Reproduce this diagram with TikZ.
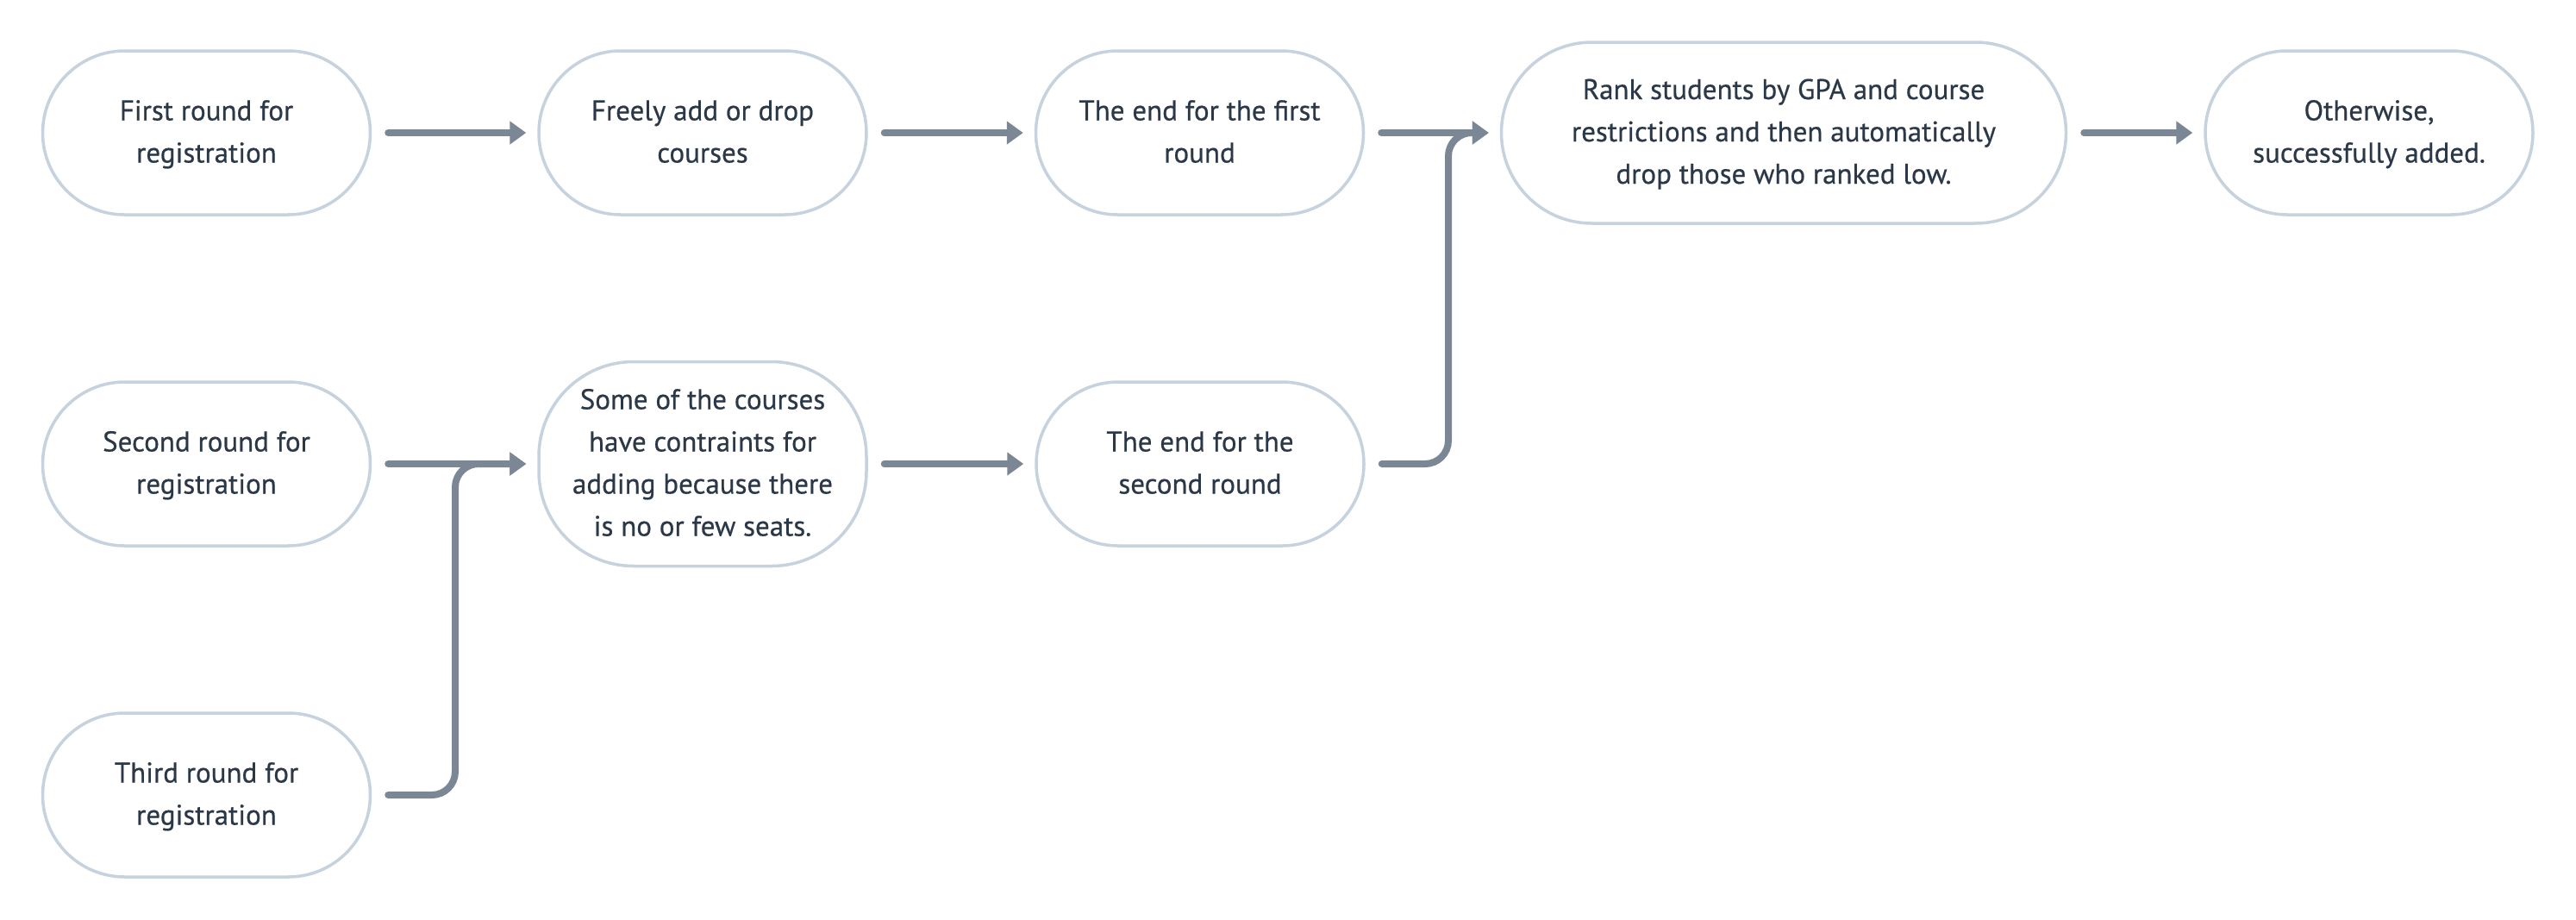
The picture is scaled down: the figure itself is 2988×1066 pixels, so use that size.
\documentclass[tikz,border=0pt]{standalone}
\usepackage{fontspec}
\setmainfont{PT Sans}
\newfontfamily\stagefont[FakeBold=0.5]{PT Sans}
\usetikzlibrary{arrows.meta}
\definecolor{edgec}{HTML}{7B8794}
\definecolor{boxc}{HTML}{C6D2DD}
\definecolor{txtc}{HTML}{2B3848}
\newcommand\lnstrut{\rule[-14.5pt]{0pt}{49pt}}
\begin{document}
\begin{tikzpicture}[x=1pt,y=-1pt,
  stage/.style={draw=boxc, line width=3.5pt, fill=white, align=center, text=txtc,
    font=\stagefont\fontsize{33}{49}\selectfont, inner sep=0pt,
    minimum width=380pt, minimum height=190pt, rounded corners=95pt},
  flow/.style={draw=edgec, line width=8pt, line cap=round,
    -{Triangle[length=19pt,width=26pt]}, shorten >=13pt, shorten <=19pt}
]
\fill[white] (0,0) rectangle (2988,1066);
\useasboundingbox (0,0) rectangle (2988,1066);

\node[stage] (n1) at (239.5,154) {\lnstrut First round for\\\lnstrut registration};
\node[stage] (n2) at (815,154) {\lnstrut Freely add or drop\\\lnstrut courses};
\node[stage] (n3) at (1391.5,154) {\lnstrut The end for the first\\\lnstrut round};
\node[stage, minimum width=655pt, minimum height=210pt, rounded corners=105pt] (n4) at (2069,154)
  {\lnstrut Rank students by GPA and course\\\lnstrut restrictions and then automatically\\\lnstrut drop those who ranked low.};
\node[stage] (n5) at (2748,154) {\lnstrut Otherwise,\\\lnstrut successfully added.};

\node[stage] (n6) at (239.5,538) {\lnstrut Second round for\\\lnstrut registration};
\node[stage, minimum height=237pt, rounded corners=110pt] (n7) at (815,538)
  {\lnstrut Some of the courses\\\lnstrut have contraints for\\\lnstrut adding because there\\\lnstrut is no or few seats.};
\node[stage] (n8) at (1392,538) {\lnstrut The end for the\\\lnstrut second round};

\node[stage] (n9) at (239.5,922) {\lnstrut Third round for\\\lnstrut registration};

\coordinate (j1) at (1680,154);
\coordinate (j2) at (528,538);

\draw[flow] (n1) -- (n2);
\draw[flow] (n2) -- (n3);
\draw[flow] (n3) -- (n4);
\draw[flow] (n4) -- (n5);
\draw[flow] (n6) -- (n7);
\draw[flow] (n7) -- (n8);
\draw[flow, rounded corners=27pt] (n8.east) -| (j1) -- (n4.west);
\draw[flow, rounded corners=27pt] (n9.east) -| (j2) -- (n7.west);
\end{tikzpicture}
\end{document}
